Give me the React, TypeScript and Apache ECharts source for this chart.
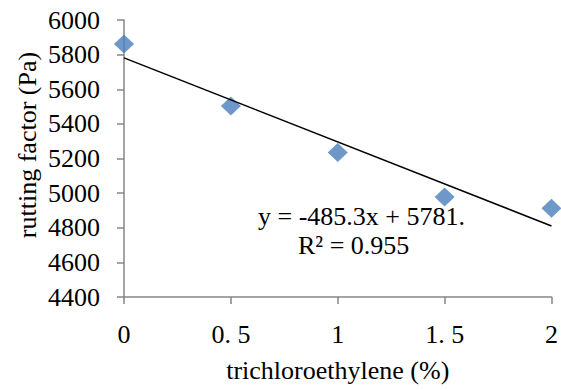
import React, { useEffect, useRef } from "react";
import * as echarts from "echarts";

const X_VALUES = [0, 0.5, 1, 1.5, 2];
const RUTTING_FACTOR = [5861, 5503, 5235, 4977, 4912];
const TREND_X = [0, 2];
const TREND_Y = [5781, 4810.4];
const Y_MIN = 4400;
const Y_MAX = 6000;
const Y_STEP = 200;
const X_MIN = 0;
const X_MAX = 2;
const X_STEP = 0.5;
const X_NAME = "trichloroethylene (%)";
const Y_NAME = "rutting factor (Pa)";
const EQUATION_LINES = ["y = -485.3x + 5781.", "R² = 0.955"];

const FONT = "Liberation Serif";
const AXIS_COLOR = "#868686";
const MARKER_COLOR = "#4A7EBB";

export default function App() {
  const ref = useRef<HTMLDivElement>(null);

  useEffect(() => {
    if (!ref.current) return;
    const chart = echarts.init(ref.current, undefined, { renderer: "svg" });
    const option = {
      animation: false,
      backgroundColor: "#ffffff",
      grid: { left: 124, right: 9, top: 20, bottom: 94, containLabel: false },
      xAxis: {
        type: "value",
        min: X_MIN,
        max: X_MAX,
        interval: X_STEP,
        name: X_NAME,
        nameLocation: "middle",
        nameGap: 60,
        nameMoveOverlap: false,
        nameTextStyle: { fontFamily: FONT, fontSize: 26, color: "#000" },
        axisLine: { show: true, lineStyle: { color: AXIS_COLOR, width: 1.5 } },
        axisTick: { show: true, length: 7, lineStyle: { color: AXIS_COLOR, width: 1.5 } },
        splitLine: { show: false },
        axisLabel: {
          margin: 24,
          fontFamily: FONT,
          fontSize: 26,
          color: "#000",
          formatter: (v: number) => String(v).replace(".", ". "),
        },
      },
      yAxis: {
        type: "value",
        min: Y_MIN,
        max: Y_MAX,
        interval: Y_STEP,
        axisLine: { show: true, lineStyle: { color: AXIS_COLOR, width: 1.5 } },
        axisTick: { show: true, length: 7, lineStyle: { color: AXIS_COLOR, width: 1.5 } },
        splitLine: { show: false },
        axisLabel: {
          margin: 24,
          fontFamily: FONT,
          fontSize: 26,
          color: "#000",
          formatter: (v: number) => String(v),
        },
      },
      series: [
        {
          type: "scatter",
          data: X_VALUES.map((x, i) => [x, RUTTING_FACTOR[i]]),
          symbol: "diamond",
          symbolSize: [20, 19],
          itemStyle: { color: MARKER_COLOR },
          z: 2,
        },
        {
          type: "line",
          data: TREND_X.map((x, i) => [x, TREND_Y[i]]),
          showSymbol: false,
          symbol: "none",
          lineStyle: { color: "#000", width: 1.5 },
          z: 3,
        },
      ],
      graphic: [
        {
          type: "text",
          x: 27,
          y: 145,
          rotation: Math.PI / 2,
          z: 10,
          style: {
            text: Y_NAME,
            fontFamily: FONT,
            fontSize: 26,
            fill: "#000",
            align: "center",
            verticalAlign: "middle",
          },
        },
        {
          type: "text",
          left: 258,
          top: 203,
          z: 10,
          style: { text: EQUATION_LINES[0], fontFamily: FONT, fontSize: 26, fill: "#000" },
        },
        {
          type: "text",
          left: 298,
          top: 232,
          z: 10,
          style: { text: EQUATION_LINES[1], fontFamily: FONT, fontSize: 26, fill: "#000" },
        },
      ],
    };
    chart.setOption(option as any);
    return () => chart.dispose();
  }, []);

  return (
    <div
      ref={ref}
      style={{ position: "fixed", left: 0, top: 0, width: 561, height: 391, background: "#fff" }}
    />
  );
}
